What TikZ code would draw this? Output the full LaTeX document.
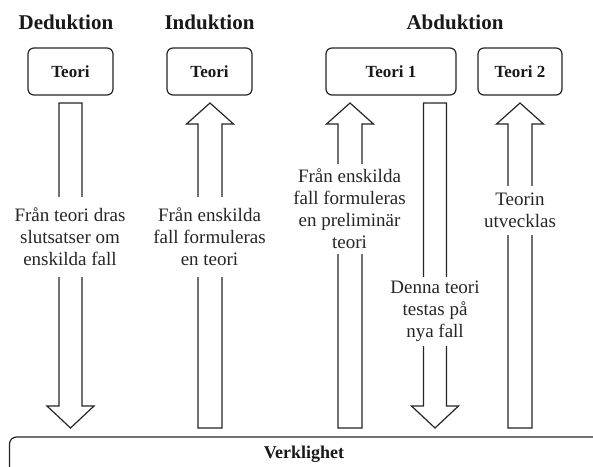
\documentclass[tikz,border=0pt]{standalone}
\usepackage{fontspec}
\setmainfont{Liberation Serif}
\begin{document}
\begin{tikzpicture}[x=1pt,y=-1pt,
  ln/.style={draw=black!85,line width=1.2pt,line join=miter},
  titletxt/.style={font=\fontsize{21}{25}\selectfont\bfseries,text=black!90,inner sep=0pt},
  teoribox/.style={ln,rounded corners=6pt,minimum height=47pt,inner sep=0pt,font=\fontsize{17}{20}\selectfont\bfseries,text=black!90},
  gaptxt/.style={fill=white,align=center,inner xsep=2pt,inner ysep=0pt,font=\fontsize{19}{22}\selectfont,text=black!85,minimum width=30pt},
  arr/.style={ln,fill=white}
]
\clip (0,0) rectangle (593,466);
\fill[white] (0,0) rectangle (593,466);

% titles
\node[titletxt] (tded) at (66,22) {Deduktion};
\node[titletxt] (tind) at (209.5,22) {Induktion};
\node[titletxt] (tabd) at (455,22) {Abduktion};

% theory boxes
\node[teoribox,minimum width=85pt] (b1) at (70.5,71.5) {Teori};
\node[teoribox,minimum width=85pt] (b2) at (209.5,71.5) {Teori};
\node[teoribox,minimum width=130pt] (b3) at (391,71.5) {Teori 1};
\node[teoribox,minimum width=84pt] (b4) at (520,71.5) {Teori 2};

% arrows: down (shaft top 103, head base 406, tip 428); up (tip 103, head base 124, bottom 428)
% Deduktion down
\draw[arr] (59,103) -- (82,103) -- (82,406) -- (94,406) -- (70.5,428) -- (47,406) -- (59,406) -- cycle;
% Induktion up
\draw[arr] (198,428) -- (198,124) -- (186.5,124) -- (210,103) -- (233.5,124) -- (222,124) -- (222,428) -- cycle;
% Abduktion 1 up
\draw[arr] (338,428) -- (338,124) -- (326.5,124) -- (350,103) -- (373.5,124) -- (362,124) -- (362,428) -- cycle;
% Abduktion 2 down
\draw[arr] (423.5,103) -- (446.5,103) -- (446.5,406) -- (458.5,406) -- (435,428) -- (411.5,406) -- (423.5,406) -- cycle;
% Abduktion 3 up
\draw[arr] (508,428) -- (508,124) -- (496.5,124) -- (520,103) -- (543.5,124) -- (532,124) -- (532,428) -- cycle;

% texts over shafts
\node[gaptxt,minimum height=80pt] (x1) at (70,237) {Från teori dras\\slutsatser om\\enskilda fall};
\node[gaptxt,minimum height=80pt] (x2) at (209.5,237) {Från enskilda\\fall formuleras\\en teori};
\node[gaptxt,minimum height=90pt] (x3) at (349.5,209) {Från enskilda\\fall formuleras\\en preliminär\\teori};
\node[gaptxt,minimum height=69pt] (x4) at (435,311.5) {Denna teori\\testas på\\nya fall};
\node[gaptxt,minimum height=49pt] (x5) at (520,210.5) {Teorin\\utvecklas};

% reality box
\draw[ln,rounded corners=7pt] (9.5,437) rectangle (620,490);
\node[font=\fontsize{18}{21}\selectfont\bfseries,text=black!90,inner sep=0pt] (verk) at (304,454) {Verklighet};
\end{tikzpicture}
\end{document}
